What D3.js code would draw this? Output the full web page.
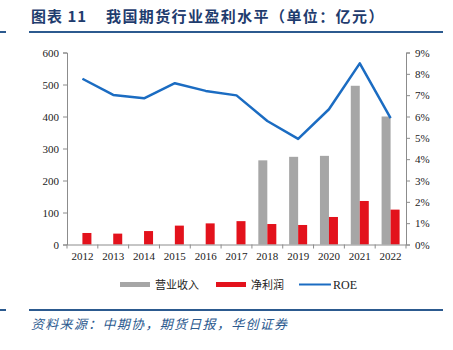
<!DOCTYPE html>
<html>
<head>
<meta charset="utf-8">
<script src="https://cdn.jsdelivr.net/npm/d3@7"></script>
<style>
  body { margin: 0; background: #fff; }
  svg { display: block; }
  .tick text { font-family: "Liberation Serif", "Times New Roman", serif; font-size: 11px; fill: #222; }
</style>
</head>
<body>
<svg width="453" height="350"></svg>
<script>
(function(d3) {
  'use strict';

  const years = ['2012', '2013', '2014', '2015', '2016', '2017', '2018', '2019', '2020', '2021', '2022'];
  // 营业收入 (亿元), 2012-2017 not shown
  const revenue = [0, 0, 0, 0, 0, 0, 263, 274, 277, 496, 400];
  // 净利润 (亿元)
  const profit = [36, 34, 42, 59, 66, 73, 64, 61, 86, 136, 109];
  // ROE (%)
  const roe = [7.77, 7.01, 6.85, 7.56, 7.2, 6.99, 5.79, 4.95, 6.34, 8.49, 5.92];
  const leftTicks = [0, 100, 200, 300, 400, 500, 600];
  const rightTicks = [0, 1, 2, 3, 4, 5, 6, 7, 8, 9];

  const svg = d3.select('svg');
  const left = 67, right = 406, top = 52.5, bottom = 244.5;
  const axisColor = '#8c8c8c';

  // title and rules
  const title = svg.append('g').
      attr('font-family', '"Noto Sans CJK SC", sans-serif').
      attr('font-weight', 'bold').attr('font-size', 15).
      attr('fill', '#1f3c6e');
  title.append('text').attr('x', 31).attr('y', 22).attr('letter-spacing', 1).text('图表 11');
  title.append('text').attr('x', 106).attr('y', 22).attr('letter-spacing', 1.4).
      text('我国期货行业盈利水平（单位：亿元）');
  [32, 310].forEach(function(y) {
    svg.append('line').attr('x1', 29).attr('x2', 443).attr('y1', y).attr('y2', y).
        attr('stroke', '#2c5a8f').attr('stroke-width', 2);
    svg.append('line').attr('x1', 0).attr('x2', 6).attr('y1', y).attr('y2', y).
        attr('stroke', '#2c5a8f').attr('stroke-width', 2);
  });
  svg.append('text').
      attr('x', 31).attr('y', 329).
      attr('font-family', '"Noto Sans CJK SC", sans-serif').
      attr('font-style', 'italic').attr('font-size', 13).
      attr('letter-spacing', 1.3).
      attr('fill', '#2c5a8f').
      text('资料来源：中期协，期货日报，华创证券');

  const x = d3.scaleBand().domain(years).range([left, right]);
  const yL = d3.scaleLinear().domain([0, 600]).range([bottom, top]);
  const yR = d3.scaleLinear().domain([0, 9]).range([bottom, top]);
  const barW = 9;

  const g = svg.append('g');

  // bars
  g.selectAll('rect.rev').data(years).enter().append('rect').
      attr('class', 'rev').
      attr('x', (d) => x(d) + x.bandwidth() / 2 - barW).
      attr('width', barW).
      attr('y', (d, i) => yL(revenue[i])).
      attr('height', (d, i) => bottom - yL(revenue[i])).
      attr('fill', '#a6a6a6');
  g.selectAll('rect.pro').data(years).enter().append('rect').
      attr('class', 'pro').
      attr('x', (d) => x(d) + x.bandwidth() / 2).
      attr('width', barW).
      attr('y', (d, i) => yL(profit[i])).
      attr('height', (d, i) => bottom - yL(profit[i])).
      attr('fill', '#e3121c');

  // axes
  const axL = g.append('g').attr('transform', `translate(${left},0)`).
      call(d3.axisLeft(yL).tickValues(leftTicks).tickSize(4).tickPadding(4));
  const axR = g.append('g').attr('transform', `translate(${right},0)`).
      call(d3.axisRight(yR).tickValues(rightTicks).tickSize(4).tickPadding(5).
          tickFormat((d) => d + '%'));
  const axX = g.append('g').attr('transform', `translate(0,${bottom})`).
      call(d3.axisBottom(x).tickSize(0).tickPadding(8));
  // category boundary ticks
  g.selectAll('line.xt').data(d3.range(years.length + 1)).enter().append('line').
      attr('class', 'xt').
      attr('x1', (i) => left + i * x.step()).attr('x2', (i) => left + i * x.step()).
      attr('y1', bottom).attr('y2', bottom + 4).
      attr('stroke', axisColor);
  [axL, axR, axX].forEach(function(a) {
    a.selectAll('path, line').attr('stroke', axisColor);
  });

  // ROE line
  const line = d3.line().
      x((d, i) => x(years[i]) + x.bandwidth() / 2).
      y((d) => yR(d));
  g.append('path').datum(roe).
      attr('d', line).
      attr('fill', 'none').
      attr('stroke', '#1b6cc2').
      attr('stroke-width', 2.5).
      attr('stroke-linejoin', 'round');

  // legend
  const legend = svg.append('g').attr('font-family', '"Noto Sans CJK SC", sans-serif').
      attr('font-size', 11).attr('fill', '#222');
  const items = [
    {label: '营业收入', color: '#a6a6a6', x: 120, type: 'rect'},
    {label: '净利润', color: '#e3121c', x: 216, type: 'rect'},
    {label: 'ROE', color: '#1b6cc2', x: 299, type: 'line'},
  ];
  items.forEach(function(it) {
    if (it.type === 'rect') {
      legend.append('rect').attr('x', it.x).attr('y', 282).attr('width', 30).attr('height', 5).
          attr('fill', it.color);
    } else {
      legend.append('line').attr('x1', it.x).attr('x2', it.x + 32).attr('y1', 284.5).attr('y2', 284.5).
          attr('stroke', it.color).attr('stroke-width', 2);
    }
    legend.append('text').attr('x', it.x + (it.type === 'rect' ? 35 : 34)).attr('y', 288.5).
        attr('font-family', it.type === 'line' ? '"Liberation Serif", serif' : null).
        attr('font-size', it.type === 'line' ? 12 : 11).
        text(it.label);
  });
}(d3));
</script>
</body>
</html>
